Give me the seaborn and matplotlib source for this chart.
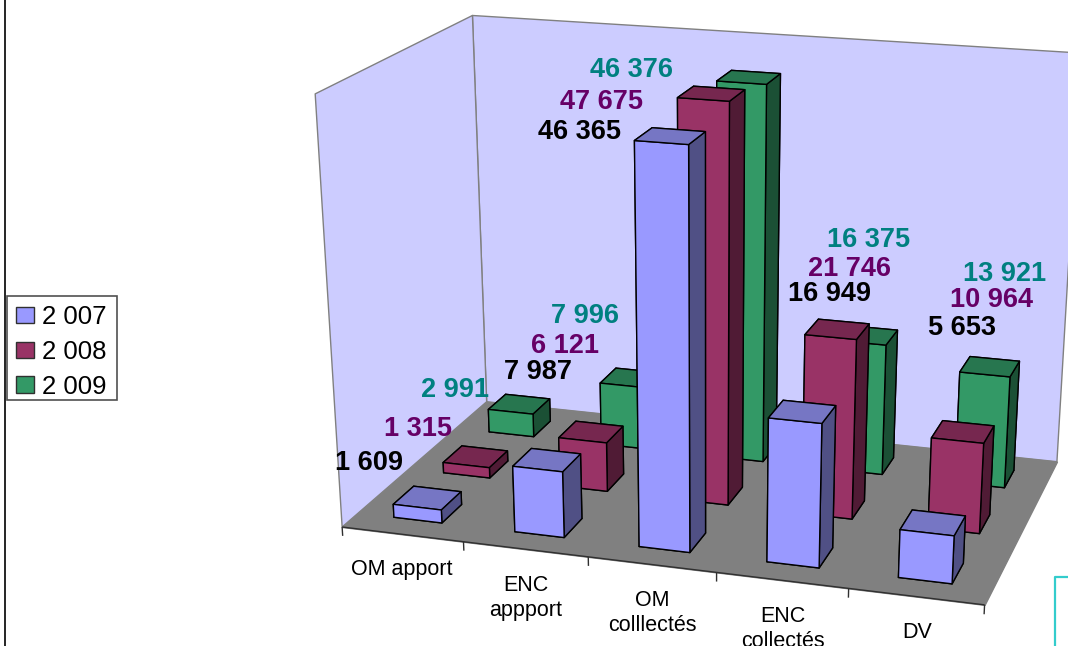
import numpy as np
import seaborn as sns
import matplotlib
matplotlib.use("Agg")
import matplotlib.pyplot as plt
from matplotlib.lines import Line2D
from matplotlib.patches import Patch, Rectangle
from mpl_toolkits.mplot3d.art3d import Poly3DCollection, Line3DCollection

# data
categories = ["OM apport", "ENC\nappport", "OM\ncolllectés", "ENC\ncollectés", "DV"]
series_names = ["2 007", "2 008", "2 009"]
values_2007 = [1609, 7987, 46365, 16949, 5653]
values_2008 = [1315, 6121, 47675, 21746, 10964]
values_2009 = [2991, 7996, 46376, 16375, 13921]
z_max = 50000

# layout, in pixels of the 1068x646 picture
W, H = 1068, 646
label_xy = [
    [(369, 463), (538, 372), (579, 132), (829, 294), (962, 328)],
    [(418, 429), (565, 346), (602, 102), (849, 269), (991, 300)],
    [(455, 390), (585, 316), (631, 70), (869, 240), (1005, 274)],
]
tick_label_xy = [(402, 570), (526, 598), (652, 613), (783, 629), (917, 632)]

# where known points of the chart box land in the picture: (x, y, z/z_max) -> pixel
calib = [
    ((0, 0, 0), (341.7, 526.7)), ((5, 0, 0), (984.3, 605)),
    ((5, 1, 0), (1057, 461.7)), ((0, 1, 0), (486.7, 401.7)),
    ((0, 0, 1), (315.3, 93.7)), ((0, 1, 1), (472.3, 15.7)),
    ((5, 1, 1), (1081, 53)),
    ((1, 0, 0), (464, 542.7)), ((2, 0, 0), (588.7, 557)),
    ((3, 0, 0), (716.7, 572)), ((4, 0, 0), (848.3, 589)),
    ((2.3, 0.1, 0), (638.3, 546.7)), ((2.7, 0.1, 0), (690.3, 552.3)),
    ((0.3, 0.1, 0), (394, 516.7)), ((4.7, 0.1, 0), (952.3, 583.3)),
]


def camera_matrix():
    rows = []
    for (x, y, z), (u, v) in calib:
        u, v = u / 1000, v / 1000
        rows.append([x, y, z, 1, 0, 0, 0, 0, -u * x, -u * y, -u * z, -u])
        rows.append([0, 0, 0, 0, x, y, z, 1, -v * x, -v * y, -v * z, -v])
    p = np.linalg.svd(np.array(rows))[2][-1].reshape(3, 4)
    p = p @ np.diag([1, 1, 1 / z_max, 1])
    p = p / p[2, 3]
    p[:2] *= 1000
    depth = p[2] - np.array([0, 0, 0, 1.0])
    return np.array([p[0], p[1], depth, p[2]])


sns.set_theme(style="white")
plt.rcParams["font.family"] = ["Liberation Sans", "DejaVu Sans"]
palette = sns.color_palette(["#9999FF", "#993366", "#339966"])
label_colors = ["black", "#660066", "#008080"]

fig = plt.figure(figsize=(W / 100, H / 100), dpi=100, facecolor="white")
# the 3d axes stays square, so it is allowed to overflow the picture
ax = fig.add_axes([0, (H - W) / 2 / H, 1, W / H], projection="3d")
ax.set_axis_off()
ax.computed_zorder = False
proj = camera_matrix()
ax.get_proj = lambda: proj
ax.viewLim.intervalx = (0, W)
ax.viewLim.intervaly = ((H + W) / 2, (H - W) / 2)

# walls and floor
left_wall = [(0, 0, 0), (0, 1, 0), (0, 1, z_max), (0, 0, z_max)]
back_wall = [(0, 1, 0), (5, 1, 0), (5, 1, z_max), (0, 1, z_max)]
floor = [(0, 0, 0), (5, 0, 0), (5, 1, 0), (0, 1, 0)]
walls = Poly3DCollection([left_wall, back_wall], facecolor="#CCCCFF",
                         edgecolor="#808080", linewidth=1.0, zorder=1)
ax.add_collection3d(walls)
ax.add_collection3d(Poly3DCollection([floor], facecolor="#808080",
                                     edgecolor="#808080", linewidth=1.0, zorder=2))

# front edge of the floor with its tick marks
tick_len = 1100
segments = [[(0, 0, 0), (len(categories), 0, 0)]]
for i in range(len(categories) + 1):
    segments.append([(i, 0, 0), (i, 0, -tick_len)])
ax.add_collection3d(Line3DCollection(segments, colors="#303030", linewidths=1.0, zorder=3))

# bars, back row first
bar_w = 0.4
bar_d = 0.4 / 3
all_values = [values_2007, values_2008, values_2009]
for row in [2, 1, 0]:
    base = np.array(palette[row])
    # faces: bottom, top, front, back, left, right
    faces = [base, base * 0.77, base, base, base, base * 0.52]
    xs = np.arange(len(categories)) + (1 - bar_w) / 2
    ys = np.full(len(categories), (row + 0.5) / 3 - bar_d / 2)
    ax.bar3d(xs, ys, np.zeros(len(categories)), bar_w, bar_d, all_values[row],
             color=faces * len(categories), shade=False,
             edgecolor="black", linewidth=1.0, zorder=10 - row)

# labels are placed in picture pixels
for row in range(3):
    for i, v in enumerate(all_values[row]):
        txt = f"{v:,}".replace(",", " ")
        x, y = label_xy[row][i]
        fig.text(x / W, 1 - y / H, txt, color=label_colors[row], fontsize=19.5,
                 fontweight="bold", ha="center", va="center")

for name, (x, y) in zip(categories, tick_label_xy):
    fig.text(x / W, 1 - y / H, name, color="black", fontsize=15.5, ha="center",
             va="center", linespacing=1.3)

# legend frame is drawn apart so it can keep the tight height of the original
fig.add_artist(Rectangle((7.3 / W, 1 - 400 / H), 110 / W, 104.3 / H, transform=fig.transFigure,
                         facecolor="white", edgecolor="#505050", linewidth=1.2))
handles = [Patch(facecolor=c, edgecolor="#303030", linewidth=1.0) for c in palette]
leg = fig.legend(handles, series_names, loc="upper left",
                 bbox_to_anchor=(11 / W, 1 - 300 / H), bbox_transform=fig.transFigure,
                 fontsize=18.5, frameon=False, borderaxespad=0, borderpad=0.2,
                 handlelength=0.7, handleheight=0.62, handletextpad=0.3,
                 labelspacing=0.42, labelcolor="black")

# chart area border on the left, and the cut-off box in the lower right
fig.add_artist(Line2D([4.6 / W, 4.6 / W], [0, 1], color="black", lw=1.2))
fig.add_artist(Line2D([1055 / W, 1055 / W, 1], [0, 1 - 577 / H, 1 - 577 / H],
                      color="#33CCCC", lw=1.6))

fig.savefig("out.png", dpi=100, facecolor="white")
